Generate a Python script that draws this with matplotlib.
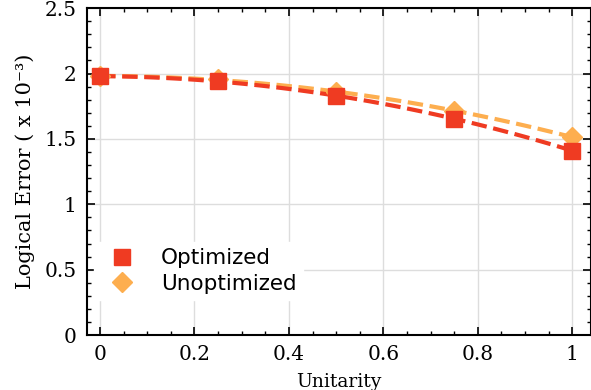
import numpy as np
import matplotlib.pyplot as plt
from matplotlib.ticker import MultipleLocator

# data
unitarity = [0, 0.25, 0.5, 0.75, 1]
err_opt = [1.98, 1.94, 1.83, 1.655, 1.41]
err_unopt = [1.98, 1.955, 1.86, 1.715, 1.515]

red = '#ef3b22'
orange = '#fdae4f'

fig = plt.figure(figsize=(5.91, 3.9), dpi=100)
ax = fig.add_axes([0.147, 0.141, 0.853, 0.838])

# quadratic trend lines through each series
xs = np.linspace(0, 1, 100)
p_un = np.polyfit(unitarity, err_unopt, 2)
p_op = np.polyfit(unitarity, err_opt, 2)
ax.plot(xs, np.polyval(p_un, xs), '--', color=orange, lw=3, zorder=2)
ax.plot(xs, np.polyval(p_op, xs), '--', color=red, lw=3, zorder=2)

h_un, = ax.plot(unitarity, err_unopt, 'D', color=orange, ms=10, ls='none',
                label='Unoptimized', zorder=3)
h_op, = ax.plot(unitarity, err_opt, 's', color=red, ms=11, ls='none',
                label='Optimized', zorder=4)

ax.set_xlim(-0.028, 1.04)
ax.set_ylim(0, 2.5)
ax.xaxis.set_minor_locator(MultipleLocator(0.05))
ax.yaxis.set_minor_locator(MultipleLocator(0.1))
ax.set_xticks([0, 0.2, 0.4, 0.6, 0.8, 1])
ax.set_xticklabels(['0', '0.2', '0.4', '0.6', '0.8', '1'], family='DejaVu Serif', fontsize=14.5)
ax.set_yticks([0, 0.5, 1, 1.5, 2, 2.5])
ax.set_yticklabels(['0', '0.5', '1', '1.5', '2', '2.5'], family='DejaVu Serif', fontsize=14.5)
ax.tick_params(which='both', direction='in', top=True, right=True)
ax.tick_params(which='major', length=6, width=1.2, pad=7.5)
ax.tick_params(which='minor', length=3, width=1)
for s in ax.spines.values():
    s.set_linewidth(1.5)
ax.grid(True, which='major', color='#dddddd', lw=1, zorder=0)
ax.set_axisbelow(True)

ax.set_xlabel('Unitarity', family='DejaVu Serif', fontsize=13.5, labelpad=6.5)
ax.set_ylabel('Logical Error ( x 10⁻³)', family='DejaVu Serif', fontsize=15, labelpad=7)

leg = ax.legend(handles=[h_op, h_un], loc='lower left', bbox_to_anchor=(-0.007, 0.074),
                fontsize=15.5, frameon=True, framealpha=1, edgecolor='white',
                fancybox=False, handletextpad=0.8, borderpad=0.3, labelspacing=0.25)

fig.savefig('out.png', dpi=100)
